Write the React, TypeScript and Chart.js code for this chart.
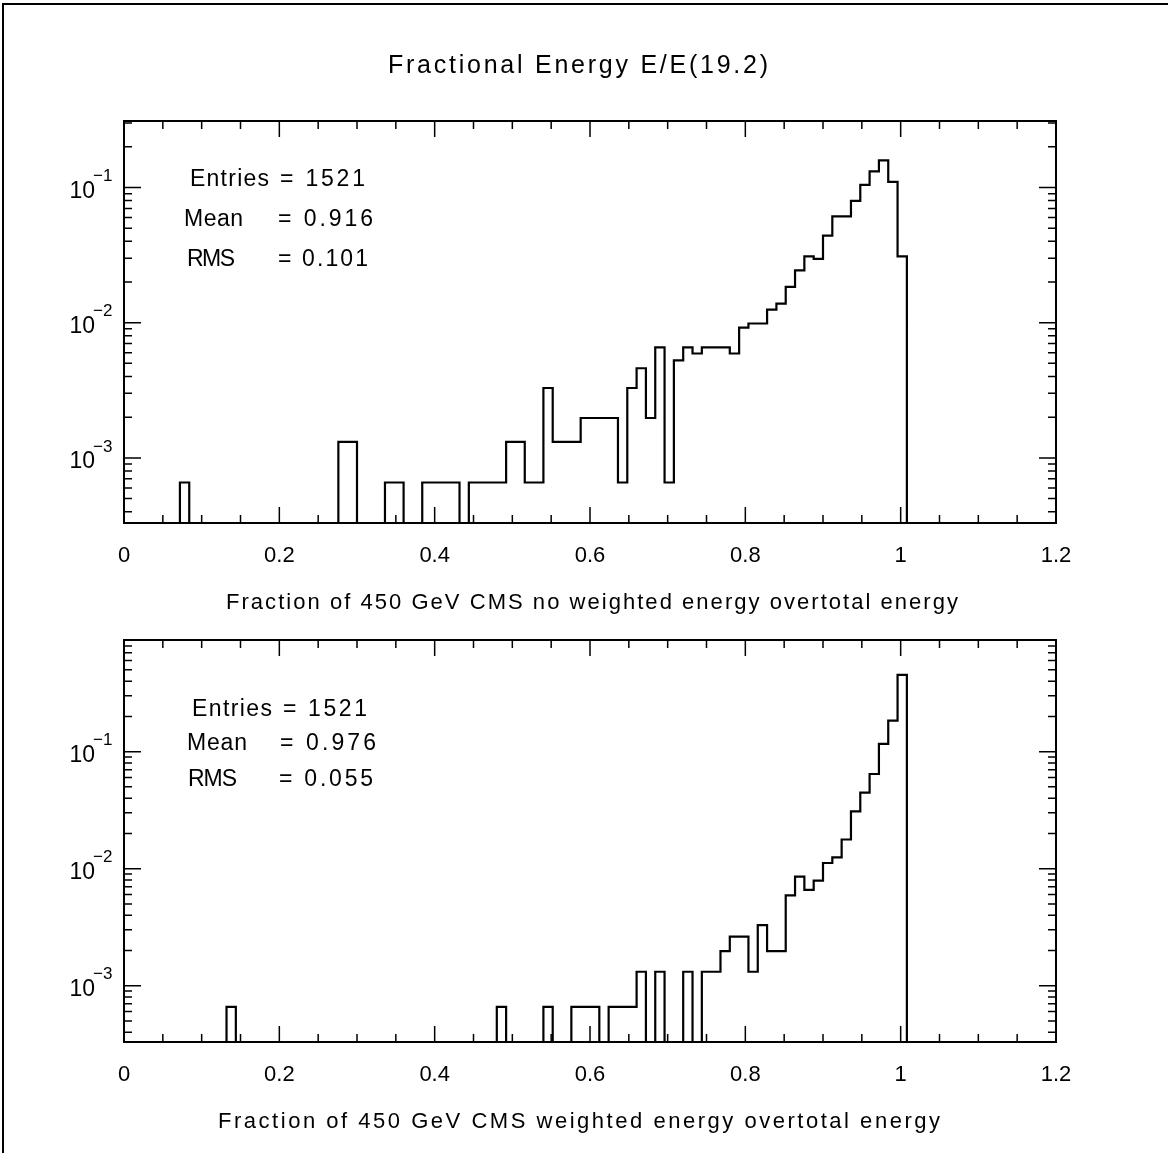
import React, { useEffect, useRef } from "react";
import { Chart, registerables } from "chart.js";

Chart.register(...registerables);

const FONT = '"Liberation Sans", Arial, Helvetica, sans-serif';

// ---------------- data ----------------
const PAGE_TITLE = "Fractional Energy E/E(19.2)";
const ENTRIES = 1521;
const N_BINS = 100;
const BIN_WIDTH = 0.012;
const X_MIN = 0;
const X_MAX = 1.2;
const X_MAJOR_STEP = 0.2;
const X_MINOR_STEP = 0.05;
const Y_DECADES = [-3, -2, -1];
const STAT_NAMES = ["Entries", "Mean", "RMS"];

// entries per bin (bin k covers [k*0.012, (k+1)*0.012]); bins after 83 are empty
const COUNTS_NO_WEIGHT = [
  0, 0, 0, 0, 0, 0, 1, 0, 0, 0,
  0, 0, 0, 0, 0, 0, 0, 0, 0, 0,
  0, 0, 0, 2, 2, 0, 0, 0, 1, 1,
  0, 0, 1, 1, 1, 1, 0, 1, 1, 1,
  1, 2, 2, 1, 1, 5, 2, 2, 2, 3,
  3, 3, 3, 1, 5, 7, 3, 10, 1, 8,
  10, 9, 10, 10, 10, 9, 14, 15, 15, 19,
  21, 28, 37, 47, 45, 67, 93, 93, 121, 159,
  200, 241, 167, 47,
];
const COUNTS_WEIGHTED = [
  0, 0, 0, 0, 0, 0, 0, 0, 0, 0,
  0, 1, 0, 0, 0, 0, 0, 0, 0, 0,
  0, 0, 0, 0, 0, 0, 0, 0, 0, 0,
  0, 0, 0, 0, 0, 0, 0, 0, 0, 0,
  1, 0, 0, 0, 0, 1, 0, 0, 1, 1,
  1, 0, 1, 1, 1, 2, 0, 2, 0, 0,
  2, 0, 2, 2, 3, 4, 4, 2, 5, 3,
  3, 9, 13, 10, 12, 17, 19, 27, 47, 68,
  98, 177, 280, 688,
];
const STATS_NO_WEIGHT = ["1521", "0.916", "0.101"];
const STATS_WEIGHTED = ["1521", "0.976", "0.055"];
const Y_RANGE_NO_WEIGHT = [3.3e-4, 0.31];
const Y_RANGE_WEIGHTED = [3.3e-4, 0.9];
const X_LABEL_NO_WEIGHT = "Fraction of 450 GeV CMS no weighted energy overtotal energy";
const X_LABEL_WEIGHTED = "Fraction of 450 GeV CMS weighted energy overtotal energy";

// ---------------- helpers ----------------
function histogramPoints(counts: number[], yMin: number) {
  const pts: { x: number; y: number }[] = [];
  for (let k = 0; k < N_BINS; k++) {
    const c = counts[k] ?? 0;
    pts.push({ x: k * BIN_WIDTH, y: c > 0 ? c / ENTRIES : yMin });
  }
  pts.push({ x: N_BINS * BIN_WIDTH, y: yMin });
  return pts;
}

function drawFitted(
  ctx: CanvasRenderingContext2D,
  text: string,
  left: number,
  cy: number,
  size: number,
  width: number
) {
  const c = ctx as any;
  ctx.font = `${size}px ${FONT}`;
  c.letterSpacing = "0px";
  const w = ctx.measureText(text).width;
  const n = Math.max(1, text.length - 1);
  const sp = (width - w) / n;
  c.letterSpacing = `${sp}px`;
  ctx.textAlign = "left";
  ctx.textBaseline = "middle";
  ctx.fillText(text, left, cy);
  c.letterSpacing = "0px";
}

type StatRow = { nx: number; nw: number; vx: number; vw: number; dy: number };

type PanelCfg = {
  counts: number[];
  yRange: number[];
  stats: string[];
  xLabel: string;
  xLabelCenter: number;
  xLabelWidth: number;
  title?: string;
  canvasTop: number;
  canvasHeight: number;
  padTop: number;
  padBottom: number;
  statRows: StatRow[];
};

function makePlugin(cfg: PanelCfg) {
  return {
    id: "pawFrame",
    afterDraw(chart: any) {
      const ctx: CanvasRenderingContext2D = chart.ctx;
      const a = chart.chartArea;
      const xs = chart.scales.x;
      const ys = chart.scales.y;
      ctx.save();
      ctx.strokeStyle = "#000";
      ctx.fillStyle = "#000";
      ctx.lineWidth = 2;
      ctx.strokeRect(a.left, a.top, a.right - a.left, a.bottom - a.top);

      ctx.lineWidth = 1.5;
      ctx.beginPath();
      const nX = Math.round((X_MAX - X_MIN) / X_MINOR_STEP);
      const per = Math.round(X_MAJOR_STEP / X_MINOR_STEP);
      for (let i = 0; i <= nX; i++) {
        const px = xs.getPixelForValue(X_MIN + i * X_MINOR_STEP);
        const len = i % per === 0 ? 16 : 8;
        ctx.moveTo(px, a.bottom);
        ctx.lineTo(px, a.bottom - len);
        ctx.moveTo(px, a.top);
        ctx.lineTo(px, a.top + len);
      }
      const lo = cfg.yRange[0];
      const hi = cfg.yRange[1];
      for (let e = Math.floor(Math.log10(lo)); e <= Math.ceil(Math.log10(hi)); e++) {
        for (let m = 1; m <= 9; m++) {
          const v = m * Math.pow(10, e);
          if (v < lo || v > hi) continue;
          const py = ys.getPixelForValue(v);
          const len = m === 1 ? 17 : 8;
          ctx.moveTo(a.left, py);
          ctx.lineTo(a.left + len, py);
          ctx.moveTo(a.right, py);
          ctx.lineTo(a.right - len, py);
        }
      }
      ctx.stroke();

      // y labels 10^-n
      for (const e of Y_DECADES) {
        const py = ys.getPixelForValue(Math.pow(10, e));
        ctx.font = `23px ${FONT}`;
        ctx.textAlign = "right";
        ctx.textBaseline = "middle";
        ctx.fillText("10", a.left - 29, py + 4);
        ctx.font = `17px ${FONT}`;
        ctx.textAlign = "left";
        ctx.fillText("\u2212" + Math.abs(e), a.left - 31, py - 11);
      }

      // statistics box text
      cfg.statRows.forEach((r, i) => {
        const y = a.top + r.dy;
        drawFitted(ctx, STAT_NAMES[i], a.left + r.nx, y, 23, r.nw);
        drawFitted(ctx, "= " + cfg.stats[i], a.left + r.vx, y, 23, r.vw);
      });

      // x axis title
      drawFitted(
        ctx,
        cfg.xLabel,
        cfg.xLabelCenter - cfg.xLabelWidth / 2,
        a.bottom + 80,
        22,
        cfg.xLabelWidth
      );

      if (cfg.title) {
        drawFitted(ctx, cfg.title, 578 - 190, a.top - 55, 25, 380);
      }
      ctx.restore();
    },
  };
}

function Panel({ cfg }: { cfg: PanelCfg }) {
  const ref = useRef<HTMLCanvasElement | null>(null);
  useEffect(() => {
    if (!ref.current) return;
    const yMin = cfg.yRange[0];
    const chart = new Chart(ref.current, {
      type: "line",
      data: {
        datasets: [
          {
            data: histogramPoints(cfg.counts, yMin),
            borderColor: "#000",
            borderWidth: 2.2,
            pointRadius: 0,
            fill: false,
            stepped: "before",
            tension: 0,
          } as any,
        ],
      },
      options: {
        animation: false,
        responsive: false,
        maintainAspectRatio: false,
        events: [],
        layout: {
          padding: { left: 124, right: 112, top: cfg.padTop, bottom: cfg.padBottom },
        },
        plugins: {
          legend: { display: false },
          tooltip: { enabled: false },
          title: { display: false },
        },
        scales: {
          x: {
            type: "linear",
            min: X_MIN,
            max: X_MAX,
            grid: { display: false },
            border: { display: false },
            ticks: {
              stepSize: X_MAJOR_STEP,
              color: "#000",
              font: { family: FONT, size: 22 },
              padding: 12,
              maxRotation: 0,
              autoSkip: false,
              callback: (v: any) => String(parseFloat(Number(v).toFixed(2))),
            },
            afterFit: (s: any) => {
              s.height = 60;
            },
          },
          y: {
            type: "logarithmic",
            bounds: "data",
            min: cfg.yRange[0],
            max: cfg.yRange[1],
            display: true,
            grid: { display: false },
            border: { display: false },
            ticks: { display: false },
            afterFit: (s: any) => {
              s.width = 0;
            },
          },
        },
      } as any,
      plugins: [makePlugin(cfg)],
    });
    return () => chart.destroy();
  }, [cfg]);
  return (
    <canvas
      ref={ref}
      width={1168}
      height={cfg.canvasHeight}
      style={{
        position: "absolute",
        left: 0,
        top: cfg.canvasTop,
        width: 1168,
        height: cfg.canvasHeight,
        display: "block",
      }}
    />
  );
}

const TOP_CFG: PanelCfg = {
  counts: COUNTS_NO_WEIGHT,
  yRange: Y_RANGE_NO_WEIGHT,
  stats: STATS_NO_WEIGHT,
  xLabel: X_LABEL_NO_WEIGHT,
  xLabelCenter: 592,
  xLabelWidth: 732,
  title: PAGE_TITLE,
  canvasTop: 0,
  canvasHeight: 620,
  padTop: 121,
  padBottom: 37,
  statRows: [
    { nx: 66, nw: 79, vx: 156, vw: 85, dy: 59 },
    { nx: 60, nw: 59, vx: 154, vw: 95, dy: 99 },
    { nx: 63, nw: 48, vx: 154, vw: 90, dy: 139 },
  ],
};

const BOTTOM_CFG: PanelCfg = {
  counts: COUNTS_WEIGHTED,
  yRange: Y_RANGE_WEIGHTED,
  stats: STATS_WEIGHTED,
  xLabel: X_LABEL_WEIGHTED,
  xLabelCenter: 579,
  xLabelWidth: 722,
  canvasTop: 620,
  canvasHeight: 533,
  padTop: 20,
  padBottom: 51,
  statRows: [
    { nx: 68, nw: 80, vx: 159, vw: 84, dy: 70 },
    { nx: 63, nw: 60, vx: 156, vw: 96, dy: 104 },
    { nx: 64, nw: 49, vx: 155, vw: 94, dy: 140 },
  ],
};

export default function App() {
  return (
    <div
      style={{
        position: "absolute",
        left: 0,
        top: 0,
        width: 1168,
        height: 1153,
        background: "#fff",
        overflow: "hidden",
      }}
    >
      <div
        style={{
          position: "absolute",
          left: 2,
          top: 3,
          width: 1170,
          height: 1160,
          borderTop: "2px solid #000",
          borderLeft: "2px solid #000",
        }}
      />
      <Panel cfg={TOP_CFG} />
      <Panel cfg={BOTTOM_CFG} />
    </div>
  );
}
